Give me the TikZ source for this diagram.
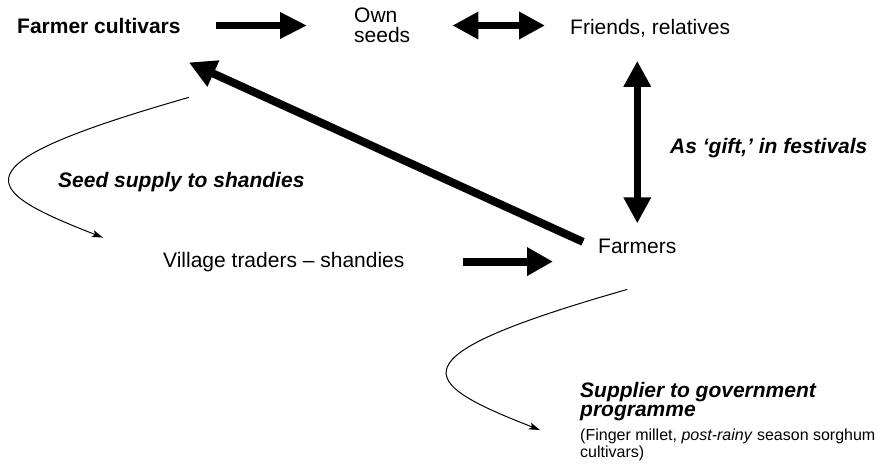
\documentclass[tikz,border=0pt]{standalone}
\usepackage{fontspec}
\setmainfont{Liberation Sans}
\usetikzlibrary{arrows.meta,calc}

\tikzset{
  lbl/.style={inner sep=0pt, anchor=base west, font=\fontsize{21}{20}\selectfont},
  emlbl/.style={lbl, font=\fontsize{21}{19}\selectfont\bfseries\itshape},
  notelbl/.style={lbl, font=\fontsize{16}{17}\selectfont},
  fatarrow/.style={line width=6.5pt, -{Triangle[length=27pt,width=25pt]}},
  fatboth/.style={line width=6.5pt, {Triangle[length=26pt,width=26pt]}-{Triangle[length=26pt,width=26pt]}},
  thinflow/.style={line width=1pt, -{Stealth[length=11pt,width=7pt,inset=2.5pt]}}
}

\begin{document}
\begin{tikzpicture}[x=1pt, y=-1pt]
  \useasboundingbox (0,0) rectangle (877,464);

  % Text nodes (multi-line nodes sit on the baseline of their last line)
  \node[lbl, font=\fontsize{21}{20}\selectfont\bfseries] (fc) at (17,33) {Farmer cultivars};
  \node[lbl, align=left] (own) at (354,42) {Own\\seeds};
  \node[lbl] (fr) at (570,34) {Friends, relatives};
  \node[emlbl] (gift) at (670,153) {As ‘gift,’ in festivals};
  \node[emlbl] (ssup) at (58,187) {Seed supply to shandies};
  \node[lbl] (vt) at (163,267) {Village traders – shandies};
  \node[lbl] (farmers) at (598,253) {Farmers};
  \node[emlbl, align=left] (sup) at (580,416) {Supplier to government\\programme};
  \node[notelbl, align=left] (note) at (580,457) {(Finger millet, \textit{post-rainy} season sorghum\\cultivars)};

  % Thick flow arrows
  \draw[fatarrow, shorten <=35pt, shorten >=47pt] (fc.east) -- (fc.east -| own.west);
  \draw[fatboth, shorten <=42pt, shorten >=25pt] (fc.east -| own.east) -- (fc.east -| fr.west);
  \draw[fatboth, shorten <=24pt, shorten >=15pt] (farmers.north |- fr.south) -- (farmers.north);
  \draw[line width=8pt, -{Triangle[length=27pt,width=27pt]}]
    ($(farmers.west)+(-15,-4)$) -- ($(fc.south east)+(8,29)$);
  \draw[line width=8pt, -{Triangle[length=26pt,width=27pt]}, shorten <=58pt, shorten >=45pt]
    (vt.east) -- (vt.east -| farmers.west);

  % Curved supply links
  \draw[thinflow] ($(fc.south east)+(8,64)$)
    .. controls +(-238,68) and +(-123,-48) .. ($(vt.north west)+(-60,-14)$);
  \draw[thinflow] ($(farmers.south)+(-10,36)$)
    .. controls +(-238,68) and +(-123,-48) .. ($(sup.base west)+(-40,14)$);
\end{tikzpicture}
\end{document}
